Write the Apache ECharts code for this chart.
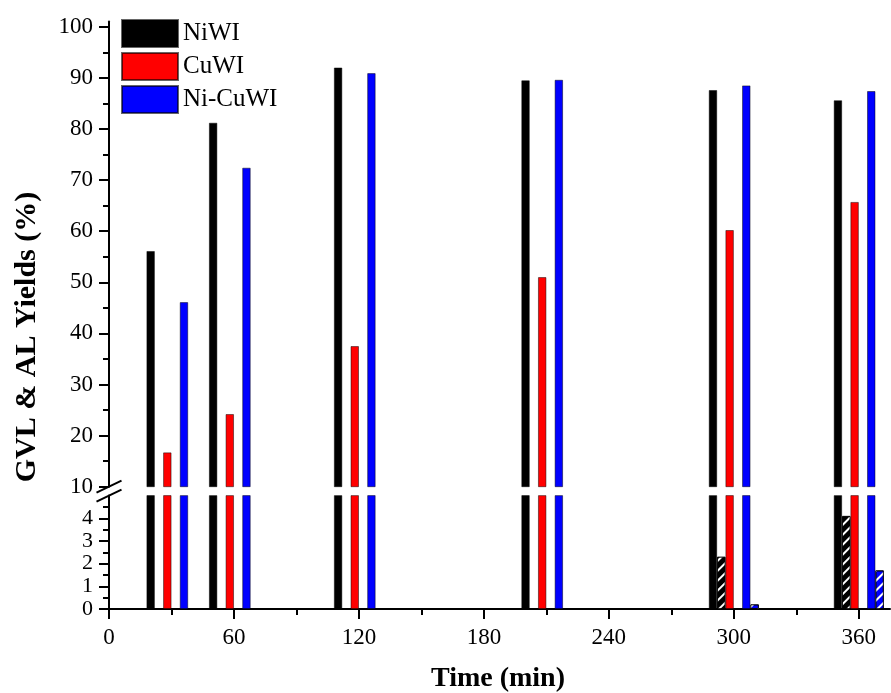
<!DOCTYPE html>
<html>
<head>
<meta charset="utf-8">
<script src="https://cdn.jsdelivr.net/npm/echarts@6/dist/echarts.min.js"></script>
<style>
  html, body { margin: 0; padding: 0; background: #fff; }
  #chart { width: 891px; height: 693px; }
</style>
</head>
<body>
<div id="chart"></div>
<script>
// Reaction time points (min)
const times = [30, 60, 120, 210, 300, 360];

// GVL yields (%)
const niwiGVL   = [56.1, 81.2, 92.0, 89.5, 87.6, 85.6];
const cuwiGVL   = [16.7, 24.2, 37.5, 51.0, 60.2, 65.7];
const nicuwiGVL = [46.1, 72.4, 90.9, 89.6, 88.5, 87.4];

// AL yields (%)
const niwiAL   = [0, 0, 0, 0, 2.3, 4.1];
const nicuwiAL = [0, 0, 0, 0, 0.2, 1.7];

// Tick labels
const xTicks      = [0, 60, 120, 180, 240, 300, 360];
const xMinorTicks = [30, 90, 150, 210, 270, 330];
const yUpperTicks = [10, 20, 30, 40, 50, 60, 70, 80, 90, 100];
const yUpperMinor = [15, 25, 35, 45, 55, 65, 75, 85, 95];
const yLowerTicks = [0, 1, 2, 3, 4];
const yLowerMinor = [0.5, 1.5, 2.5, 3.5, 4.5];

const seriesNames = ['NiWI', 'CuWI', 'Ni-CuWI'];

// ---- layout ----
const FONT = 'Liberation Serif';
const X_MIN = 0, X_MAX = 375;
const PLOT_LEFT = 109, PLOT_WIDTH = 781;
const UPPER_TOP = 21.6, UPPER_BOTTOM = 486.7;
const LOWER_TOP = 495.6, LOWER_BOTTOM = 609;
const UPPER_MIN = 10, UPPER_MAX = 101;
const LOWER_MIN = 0, LOWER_MAX = 5;
const BAR_W = 8.3;
// slot offsets (min) of each bar inside a time group
const OFF = { niwi: -10, niwiAL: -6, cuwi: -2, nicuwi: 6, nicuwiAL: 10 };

const LINE = { color: '#000', width: 2 };
const BORDER = 'rgba(0,0,0,0.6)';

// white "/" hatching for the AL bars
const hatch = { symbol: 'rect', symbolSize: 1, color: '#ffffff',
                dashArrayX: [1, 0], dashArrayY: [1.6, 4.4], rotation: -Math.PI / 4 };

const styles = {
  niwi:     { color: '#000000', borderColor: BORDER, borderWidth: 0.8 },
  cuwi:     { color: '#ff0000', borderColor: BORDER, borderWidth: 0.8 },
  nicuwi:   { color: '#0000ff', borderColor: BORDER, borderWidth: 0.8 },
  niwiAL:   { color: '#000000', borderColor: '#000', borderWidth: 0.8, decal: hatch },
  nicuwiAL: { color: '#0000ff', borderColor: '#000', borderWidth: 0.8, decal: hatch }
};

function barSeries(name, values, offset, style, part) {
  const upper = part === 'upper';
  return {
    type: 'bar',
    name: name,
    xAxisIndex: upper ? 0 : 1,
    yAxisIndex: upper ? 0 : 2,
    data: times.map((t, i) => [t + offset, values[i]]),
    barWidth: BAR_W,
    barGap: '-100%',
    itemStyle: style,
    clip: true,
    silent: true,
    animation: false
  };
}

function mainYAxis(grid, min, max, ticks, fontSize) {
  return {
    type: 'value', gridIndex: grid, position: 'left', min: min, max: max,
    axisLine: { show: true, lineStyle: LINE },
    axisTick: { show: true, length: 10, lineStyle: LINE, customValues: ticks },
    axisLabel: { show: true, customValues: ticks, fontFamily: FONT, fontSize: fontSize,
                 color: '#000', margin: 16, hideOverlap: false,
                 showMinLabel: true, showMaxLabel: true },
    splitLine: { show: false }, minorTick: { show: false }, minorSplitLine: { show: false }
  };
}
function minorYAxis(grid, min, max, ticks) {
  return {
    type: 'value', gridIndex: grid, position: 'left', min: min, max: max,
    axisLine: { show: false },
    axisTick: { show: true, length: 6, lineStyle: LINE, customValues: ticks },
    axisLabel: { show: false }, splitLine: { show: false }
  };
}

const series = [
  barSeries('NiWI', niwiGVL, OFF.niwi, styles.niwi, 'upper'),
  barSeries('CuWI', cuwiGVL, OFF.cuwi, styles.cuwi, 'upper'),
  barSeries('Ni-CuWI', nicuwiGVL, OFF.nicuwi, styles.nicuwi, 'upper'),
  barSeries('NiWI', niwiGVL, OFF.niwi, styles.niwi, 'lower'),
  barSeries('NiWI AL', niwiAL, OFF.niwiAL, styles.niwiAL, 'lower'),
  barSeries('CuWI', cuwiGVL, OFF.cuwi, styles.cuwi, 'lower'),
  barSeries('Ni-CuWI', nicuwiGVL, OFF.nicuwi, styles.nicuwi, 'lower'),
  barSeries('Ni-CuWI AL', nicuwiAL, OFF.nicuwiAL, styles.nicuwiAL, 'lower')
];

const chart = echarts.init(document.getElementById('chart'), null, { renderer: 'canvas' });

chart.setOption({
  backgroundColor: '#fff',
  animation: false,
  textStyle: { fontFamily: FONT, color: '#000' },
  grid: [
    { left: PLOT_LEFT, top: UPPER_TOP, width: PLOT_WIDTH, height: UPPER_BOTTOM - UPPER_TOP,
      outerBoundsMode: 'none', containLabel: false },
    { left: PLOT_LEFT, top: LOWER_TOP, width: PLOT_WIDTH, height: LOWER_BOTTOM - LOWER_TOP,
      outerBoundsMode: 'none', containLabel: false }
  ],
  legend: {
    data: seriesNames,
    orient: 'vertical',
    left: 116, top: 14,
    itemWidth: 56, itemHeight: 27, itemGap: 4,
    icon: 'rect',
    textStyle: { fontFamily: FONT, fontSize: 25, color: '#000' },
    selectedMode: false
  },
  xAxis: [
    { type: 'value', gridIndex: 0, position: 'bottom', min: X_MIN, max: X_MAX, show: false },
    {
      type: 'value', gridIndex: 1, position: 'bottom', min: X_MIN, max: X_MAX,
      axisLine: { show: true, lineStyle: LINE },
      axisTick: { show: true, length: 10, lineStyle: LINE, customValues: xTicks },
      axisLabel: { show: true, customValues: xTicks, fontFamily: FONT, fontSize: 23,
                   color: '#000', margin: 17, hideOverlap: false },
      splitLine: { show: false }, minorTick: { show: false }
    },
    {
      type: 'value', gridIndex: 1, position: 'bottom', min: X_MIN, max: X_MAX,
      axisLine: { show: false },
      axisTick: { show: true, length: 6, lineStyle: LINE, customValues: xMinorTicks },
      axisLabel: { show: false }, splitLine: { show: false }
    }
  ],
  yAxis: [
    mainYAxis(0, UPPER_MIN, UPPER_MAX, yUpperTicks, 23),
    minorYAxis(0, UPPER_MIN, UPPER_MAX, yUpperMinor),
    mainYAxis(1, LOWER_MIN, LOWER_MAX, yLowerTicks, 22),
    minorYAxis(1, LOWER_MIN, LOWER_MAX, yLowerMinor)
  ],
  series: series,
  graphic: [
    // axis break marks
    { type: 'line', silent: true,
      shape: { x1: PLOT_LEFT - 12.5, y1: UPPER_BOTTOM + 6, x2: PLOT_LEFT + 12.5, y2: UPPER_BOTTOM - 6 },
      style: { stroke: '#000', lineWidth: 2 } },
    { type: 'line', silent: true,
      shape: { x1: PLOT_LEFT - 12.5, y1: LOWER_TOP + 6, x2: PLOT_LEFT + 12.5, y2: LOWER_TOP - 6 },
      style: { stroke: '#000', lineWidth: 2 } },
    // axis titles
    { type: 'text', silent: true, x: 27, y: 337, rotation: Math.PI / 2,
      style: { text: 'GVL & AL Yields (%)', font: 'bold 30px "Liberation Serif"',
               fill: '#000', align: 'center', verticalAlign: 'middle' } },
    { type: 'text', silent: true, x: 498, y: 679,
      style: { text: 'Time (min)', font: 'bold 28px "Liberation Serif"',
               fill: '#000', align: 'center', verticalAlign: 'middle' } }
  ]
});
</script>
</body>
</html>
